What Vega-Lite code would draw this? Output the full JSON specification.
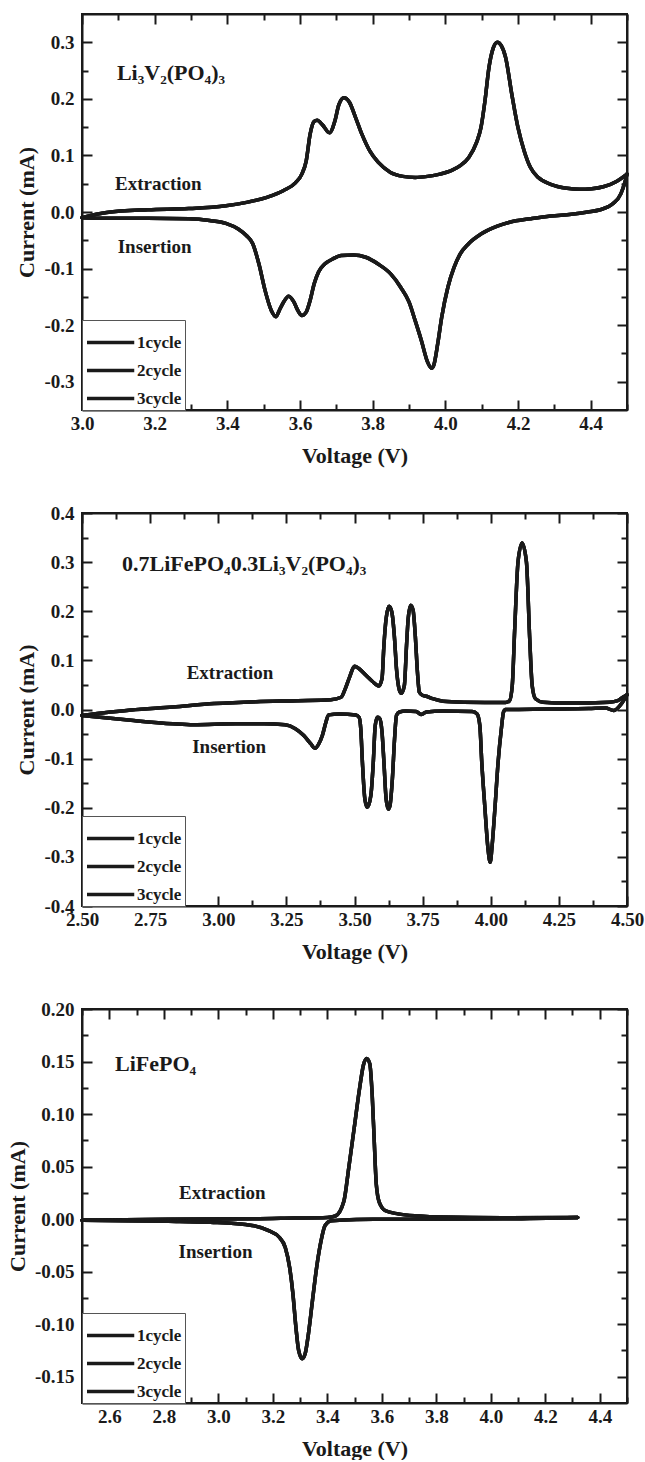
{
  "$schema": "https://vega.github.io/schema/vega-lite/v6.json",
  "padding": {"left": 5, "top": 12, "right": 5, "bottom": 0},
  "spacing": 36,
  "config": {
    "font": "Liberation Serif",
    "view": {"stroke": "#1a1a1a", "strokeWidth": 2},
    "axis": {"labelFont": "Liberation Serif", "labelFontSize": 19, "labelFontWeight": "bold", "labelColor": "#1a1a1a", "titleFont": "Liberation Serif", "titleFontSize": 22, "titleFontWeight": "bold", "titleColor": "#1a1a1a", "domainColor": "#1a1a1a", "domainWidth": 2, "tickColor": "#1a1a1a", "tickWidth": 2, "grid": false, "labelOverlap": false, "labelFlush": false, "labelBound": false},
    "text": {"font": "Liberation Serif", "fontWeight": "bold", "color": "#1a1a1a"},
    "legend": {"orient": "bottom-left", "offset": 0, "symbolType": "M-1,0H1.7", "symbolSize": 1225, "symbolStrokeWidth": 3.5, "labelFont": "Liberation Serif", "labelFontSize": 17, "labelFontWeight": "bold", "labelColor": "#1a1a1a", "strokeColor": "#555555", "fillColor": "#ffffff", "padding": 3, "rowPadding": -6.5, "labelOffset": 13}
  },
  "datasets": {
    "notes": [
      {"p": 1, "k": "w", "t": "Extraction", "V": 3.21, "I": 0.05},
      {"p": 1, "k": "w", "t": "Insertion", "V": 3.2, "I": -0.061},
      {"p": 1, "k": "f", "t": "Li₃V₂(PO₄)₃", "V": 3.096, "I": 0.246},
      {"p": 2, "k": "w", "t": "Extraction", "V": 3.043, "I": 0.074},
      {"p": 2, "k": "w", "t": "Insertion", "V": 3.04, "I": -0.077},
      {"p": 2, "k": "f", "t": "0.7LiFePO₄0.3Li₃V₂(PO₄)₃", "V": 2.647, "I": 0.297},
      {"p": 3, "k": "w", "t": "Extraction", "V": 3.015, "I": 0.025},
      {"p": 3, "k": "w", "t": "Insertion", "V": 2.99, "I": -0.0316},
      {"p": 3, "k": "f", "t": "LiFePO₄", "V": 2.621, "I": 0.148}
    ],
    "lvp": [
      {"b":"u","V":3.0,"1cycle":-0.01,"2cycle":-0.01,"3cycle":-0.01},
      {"b":"u","V":3.068,"1cycle":-0.001,"2cycle":-0.001,"3cycle":-0.001},
      {"b":"u","V":3.181,"1cycle":0.004,"2cycle":0.004,"3cycle":0.004},
      {"b":"u","V":3.294,"1cycle":0.006,"2cycle":0.006,"3cycle":0.006},
      {"b":"u","V":3.396,"1cycle":0.011,"2cycle":0.011,"3cycle":0.011},
      {"b":"u","V":3.453,"1cycle":0.017,"2cycle":0.017,"3cycle":0.017},
      {"b":"u","V":3.509,"1cycle":0.026,"2cycle":0.026,"3cycle":0.026},
      {"b":"u","V":3.555,"1cycle":0.038,"2cycle":0.038,"3cycle":0.038},
      {"b":"u","V":3.588,"1cycle":0.052,"2cycle":0.052,"3cycle":0.052},
      {"b":"u","V":3.605,"1cycle":0.067,"2cycle":0.067,"3cycle":0.067},
      {"b":"u","V":3.617,"1cycle":0.09,"2cycle":0.09,"3cycle":0.09},
      {"b":"u","V":3.628,"1cycle":0.138,"2cycle":0.138,"3cycle":0.138},
      {"b":"u","V":3.639,"1cycle":0.16,"2cycle":0.16,"3cycle":0.16},
      {"b":"u","V":3.647,"1cycle":0.162,"2cycle":0.162,"3cycle":0.162},
      {"b":"u","V":3.662,"1cycle":0.154,"2cycle":0.154,"3cycle":0.154},
      {"b":"u","V":3.681,"1cycle":0.14,"2cycle":0.14,"3cycle":0.14},
      {"b":"u","V":3.696,"1cycle":0.161,"2cycle":0.161,"3cycle":0.161},
      {"b":"u","V":3.707,"1cycle":0.19,"2cycle":0.19,"3cycle":0.19},
      {"b":"u","V":3.721,"1cycle":0.202,"2cycle":0.202,"3cycle":0.202},
      {"b":"u","V":3.736,"1cycle":0.194,"2cycle":0.194,"3cycle":0.194},
      {"b":"u","V":3.753,"1cycle":0.167,"2cycle":0.167,"3cycle":0.167},
      {"b":"u","V":3.77,"1cycle":0.138,"2cycle":0.138,"3cycle":0.138},
      {"b":"u","V":3.792,"1cycle":0.108,"2cycle":0.108,"3cycle":0.108},
      {"b":"u","V":3.815,"1cycle":0.088,"2cycle":0.088,"3cycle":0.088},
      {"b":"u","V":3.849,"1cycle":0.07,"2cycle":0.07,"3cycle":0.07},
      {"b":"u","V":3.883,"1cycle":0.063,"2cycle":0.063,"3cycle":0.063},
      {"b":"u","V":3.917,"1cycle":0.061,"2cycle":0.061,"3cycle":0.061},
      {"b":"u","V":3.951,"1cycle":0.063,"2cycle":0.063,"3cycle":0.063},
      {"b":"u","V":3.985,"1cycle":0.067,"2cycle":0.067,"3cycle":0.067},
      {"b":"u","V":4.019,"1cycle":0.074,"2cycle":0.074,"3cycle":0.074},
      {"b":"u","V":4.041,"1cycle":0.082,"2cycle":0.082,"3cycle":0.082},
      {"b":"u","V":4.064,"1cycle":0.096,"2cycle":0.096,"3cycle":0.096},
      {"b":"u","V":4.086,"1cycle":0.123,"2cycle":0.123,"3cycle":0.123},
      {"b":"u","V":4.098,"1cycle":0.149,"2cycle":0.149,"3cycle":0.149},
      {"b":"u","V":4.109,"1cycle":0.196,"2cycle":0.196,"3cycle":0.196},
      {"b":"u","V":4.12,"1cycle":0.255,"2cycle":0.255,"3cycle":0.255},
      {"b":"u","V":4.132,"1cycle":0.29,"2cycle":0.29,"3cycle":0.29},
      {"b":"u","V":4.143,"1cycle":0.3,"2cycle":0.3,"3cycle":0.3},
      {"b":"u","V":4.154,"1cycle":0.294,"2cycle":0.294,"3cycle":0.294},
      {"b":"u","V":4.166,"1cycle":0.273,"2cycle":0.273,"3cycle":0.273},
      {"b":"u","V":4.183,"1cycle":0.208,"2cycle":0.208,"3cycle":0.208},
      {"b":"u","V":4.2,"1cycle":0.149,"2cycle":0.149,"3cycle":0.149},
      {"b":"u","V":4.217,"1cycle":0.108,"2cycle":0.108,"3cycle":0.108},
      {"b":"u","V":4.234,"1cycle":0.079,"2cycle":0.079,"3cycle":0.079},
      {"b":"u","V":4.256,"1cycle":0.061,"2cycle":0.061,"3cycle":0.061},
      {"b":"u","V":4.29,"1cycle":0.049,"2cycle":0.049,"3cycle":0.049},
      {"b":"u","V":4.335,"1cycle":0.042,"2cycle":0.042,"3cycle":0.042},
      {"b":"u","V":4.369,"1cycle":0.04,"2cycle":0.04,"3cycle":0.04},
      {"b":"u","V":4.403,"1cycle":0.041,"2cycle":0.041,"3cycle":0.041},
      {"b":"u","V":4.437,"1cycle":0.045,"2cycle":0.045,"3cycle":0.045},
      {"b":"u","V":4.471,"1cycle":0.054,"2cycle":0.054,"3cycle":0.054},
      {"b":"u","V":4.5,"1cycle":0.067,"2cycle":0.067,"3cycle":0.067},
      {"b":"l","V":4.5,"1cycle":0.067,"2cycle":0.067,"3cycle":0.067},
      {"b":"l","V":4.494,"1cycle":0.052,"2cycle":0.052,"3cycle":0.052},
      {"b":"l","V":4.483,"1cycle":0.032,"2cycle":0.032,"3cycle":0.032},
      {"b":"l","V":4.46,"1cycle":0.014,"2cycle":0.014,"3cycle":0.014},
      {"b":"l","V":4.426,"1cycle":0.004,"2cycle":0.004,"3cycle":0.004},
      {"b":"l","V":4.392,"1cycle":0.0,"2cycle":0.0,"3cycle":0.0},
      {"b":"l","V":4.347,"1cycle":-0.004,"2cycle":-0.004,"3cycle":-0.004},
      {"b":"l","V":4.29,"1cycle":-0.007,"2cycle":-0.007,"3cycle":-0.007},
      {"b":"l","V":4.234,"1cycle":-0.012,"2cycle":-0.012,"3cycle":-0.012},
      {"b":"l","V":4.177,"1cycle":-0.018,"2cycle":-0.018,"3cycle":-0.018},
      {"b":"l","V":4.143,"1cycle":-0.025,"2cycle":-0.025,"3cycle":-0.025},
      {"b":"l","V":4.098,"1cycle":-0.039,"2cycle":-0.039,"3cycle":-0.039},
      {"b":"l","V":4.064,"1cycle":-0.056,"2cycle":-0.056,"3cycle":-0.056},
      {"b":"l","V":4.041,"1cycle":-0.074,"2cycle":-0.074,"3cycle":-0.074},
      {"b":"l","V":4.024,"1cycle":-0.098,"2cycle":-0.098,"3cycle":-0.098},
      {"b":"l","V":4.007,"1cycle":-0.133,"2cycle":-0.133,"3cycle":-0.133},
      {"b":"l","V":3.99,"1cycle":-0.186,"2cycle":-0.186,"3cycle":-0.186},
      {"b":"l","V":3.979,"1cycle":-0.233,"2cycle":-0.233,"3cycle":-0.233},
      {"b":"l","V":3.968,"1cycle":-0.271,"2cycle":-0.271,"3cycle":-0.271},
      {"b":"l","V":3.962,"1cycle":-0.276,"2cycle":-0.276,"3cycle":-0.276},
      {"b":"l","V":3.951,"1cycle":-0.265,"2cycle":-0.265,"3cycle":-0.265},
      {"b":"l","V":3.934,"1cycle":-0.227,"2cycle":-0.227,"3cycle":-0.227},
      {"b":"l","V":3.917,"1cycle":-0.192,"2cycle":-0.192,"3cycle":-0.192},
      {"b":"l","V":3.9,"1cycle":-0.159,"2cycle":-0.159,"3cycle":-0.159},
      {"b":"l","V":3.877,"1cycle":-0.133,"2cycle":-0.133,"3cycle":-0.133},
      {"b":"l","V":3.849,"1cycle":-0.109,"2cycle":-0.109,"3cycle":-0.109},
      {"b":"l","V":3.815,"1cycle":-0.092,"2cycle":-0.092,"3cycle":-0.092},
      {"b":"l","V":3.781,"1cycle":-0.08,"2cycle":-0.08,"3cycle":-0.08},
      {"b":"l","V":3.747,"1cycle":-0.076,"2cycle":-0.076,"3cycle":-0.076},
      {"b":"l","V":3.713,"1cycle":-0.077,"2cycle":-0.077,"3cycle":-0.077},
      {"b":"l","V":3.69,"1cycle":-0.083,"2cycle":-0.083,"3cycle":-0.083},
      {"b":"l","V":3.668,"1cycle":-0.092,"2cycle":-0.092,"3cycle":-0.092},
      {"b":"l","V":3.651,"1cycle":-0.106,"2cycle":-0.106,"3cycle":-0.106},
      {"b":"l","V":3.639,"1cycle":-0.127,"2cycle":-0.127,"3cycle":-0.127},
      {"b":"l","V":3.628,"1cycle":-0.156,"2cycle":-0.156,"3cycle":-0.156},
      {"b":"l","V":3.617,"1cycle":-0.177,"2cycle":-0.177,"3cycle":-0.177},
      {"b":"l","V":3.605,"1cycle":-0.183,"2cycle":-0.183,"3cycle":-0.183},
      {"b":"l","V":3.594,"1cycle":-0.174,"2cycle":-0.174,"3cycle":-0.174},
      {"b":"l","V":3.583,"1cycle":-0.159,"2cycle":-0.159,"3cycle":-0.159},
      {"b":"l","V":3.569,"1cycle":-0.149,"2cycle":-0.149,"3cycle":-0.149},
      {"b":"l","V":3.555,"1cycle":-0.159,"2cycle":-0.159,"3cycle":-0.159},
      {"b":"l","V":3.543,"1cycle":-0.174,"2cycle":-0.174,"3cycle":-0.174},
      {"b":"l","V":3.534,"1cycle":-0.185,"2cycle":-0.185,"3cycle":-0.185},
      {"b":"l","V":3.521,"1cycle":-0.174,"2cycle":-0.174,"3cycle":-0.174},
      {"b":"l","V":3.504,"1cycle":-0.139,"2cycle":-0.139,"3cycle":-0.139},
      {"b":"l","V":3.487,"1cycle":-0.092,"2cycle":-0.092,"3cycle":-0.092},
      {"b":"l","V":3.47,"1cycle":-0.056,"2cycle":-0.056,"3cycle":-0.056},
      {"b":"l","V":3.453,"1cycle":-0.042,"2cycle":-0.042,"3cycle":-0.042},
      {"b":"l","V":3.43,"1cycle":-0.03,"2cycle":-0.03,"3cycle":-0.03},
      {"b":"l","V":3.396,"1cycle":-0.02,"2cycle":-0.02,"3cycle":-0.02},
      {"b":"l","V":3.351,"1cycle":-0.015,"2cycle":-0.015,"3cycle":-0.015},
      {"b":"l","V":3.294,"1cycle":-0.012,"2cycle":-0.012,"3cycle":-0.012},
      {"b":"l","V":3.181,"1cycle":-0.011,"2cycle":-0.011,"3cycle":-0.011},
      {"b":"l","V":3.068,"1cycle":-0.011,"2cycle":-0.011,"3cycle":-0.011},
      {"b":"l","V":3.0,"1cycle":-0.01,"2cycle":-0.01,"3cycle":-0.01}
    ],
    "comp": [
      {"b":"u","V":2.5,"1cycle":-0.012,"2cycle":-0.012,"3cycle":-0.012},
      {"b":"u","V":2.68,"1cycle":-0.001,"2cycle":-0.001,"3cycle":-0.001},
      {"b":"u","V":2.833,"1cycle":0.005,"2cycle":0.005,"3cycle":0.005},
      {"b":"u","V":2.985,"1cycle":0.012,"2cycle":0.012,"3cycle":0.012},
      {"b":"u","V":3.138,"1cycle":0.016,"2cycle":0.016,"3cycle":0.016},
      {"b":"u","V":3.291,"1cycle":0.018,"2cycle":0.018,"3cycle":0.018},
      {"b":"u","V":3.413,"1cycle":0.02,"2cycle":0.02,"3cycle":0.02},
      {"b":"u","V":3.451,"1cycle":0.025,"2cycle":0.025,"3cycle":0.025},
      {"b":"u","V":3.466,"1cycle":0.042,"2cycle":0.042,"3cycle":0.042},
      {"b":"u","V":3.482,"1cycle":0.066,"2cycle":0.066,"3cycle":0.066},
      {"b":"u","V":3.5,"1cycle":0.088,"2cycle":0.088,"3cycle":0.088},
      {"b":"u","V":3.517,"1cycle":0.083,"2cycle":0.083,"3cycle":0.083},
      {"b":"u","V":3.543,"1cycle":0.069,"2cycle":0.069,"3cycle":0.069},
      {"b":"u","V":3.566,"1cycle":0.057,"2cycle":0.057,"3cycle":0.057},
      {"b":"u","V":3.589,"1cycle":0.048,"2cycle":0.048,"3cycle":0.048},
      {"b":"u","V":3.601,"1cycle":0.063,"2cycle":0.063,"3cycle":0.063},
      {"b":"u","V":3.608,"1cycle":0.131,"2cycle":0.131,"3cycle":0.131},
      {"b":"u","V":3.616,"1cycle":0.185,"2cycle":0.185,"3cycle":0.185},
      {"b":"u","V":3.627,"1cycle":0.21,"2cycle":0.21,"3cycle":0.21},
      {"b":"u","V":3.637,"1cycle":0.198,"2cycle":0.198,"3cycle":0.198},
      {"b":"u","V":3.647,"1cycle":0.144,"2cycle":0.144,"3cycle":0.144},
      {"b":"u","V":3.654,"1cycle":0.083,"2cycle":0.083,"3cycle":0.083},
      {"b":"u","V":3.665,"1cycle":0.039,"2cycle":0.039,"3cycle":0.039},
      {"b":"u","V":3.672,"1cycle":0.033,"2cycle":0.033,"3cycle":0.033},
      {"b":"u","V":3.683,"1cycle":0.049,"2cycle":0.049,"3cycle":0.049},
      {"b":"u","V":3.691,"1cycle":0.131,"2cycle":0.131,"3cycle":0.131},
      {"b":"u","V":3.697,"1cycle":0.185,"2cycle":0.185,"3cycle":0.185},
      {"b":"u","V":3.706,"1cycle":0.212,"2cycle":0.212,"3cycle":0.212},
      {"b":"u","V":3.715,"1cycle":0.202,"2cycle":0.202,"3cycle":0.202},
      {"b":"u","V":3.723,"1cycle":0.151,"2cycle":0.151,"3cycle":0.151},
      {"b":"u","V":3.731,"1cycle":0.076,"2cycle":0.076,"3cycle":0.076},
      {"b":"u","V":3.738,"1cycle":0.035,"2cycle":0.035,"3cycle":0.035},
      {"b":"u","V":3.749,"1cycle":0.029,"2cycle":0.029,"3cycle":0.029},
      {"b":"u","V":3.764,"1cycle":0.027,"2cycle":0.027,"3cycle":0.027},
      {"b":"u","V":3.787,"1cycle":0.022,"2cycle":0.022,"3cycle":0.022},
      {"b":"u","V":3.825,"1cycle":0.017,"2cycle":0.017,"3cycle":0.017},
      {"b":"u","V":3.902,"1cycle":0.015,"2cycle":0.015,"3cycle":0.015},
      {"b":"u","V":4.054,"1cycle":0.014,"2cycle":0.014,"3cycle":0.014},
      {"b":"u","V":4.069,"1cycle":0.018,"2cycle":0.018,"3cycle":0.018},
      {"b":"u","V":4.079,"1cycle":0.049,"2cycle":0.049,"3cycle":0.049},
      {"b":"u","V":4.088,"1cycle":0.165,"2cycle":0.165,"3cycle":0.165},
      {"b":"u","V":4.1,"1cycle":0.3,"2cycle":0.3,"3cycle":0.3},
      {"b":"u","V":4.115,"1cycle":0.339,"2cycle":0.339,"3cycle":0.339},
      {"b":"u","V":4.131,"1cycle":0.3,"2cycle":0.3,"3cycle":0.3},
      {"b":"u","V":4.143,"1cycle":0.144,"2cycle":0.144,"3cycle":0.144},
      {"b":"u","V":4.152,"1cycle":0.049,"2cycle":0.049,"3cycle":0.049},
      {"b":"u","V":4.164,"1cycle":0.022,"2cycle":0.022,"3cycle":0.022},
      {"b":"u","V":4.192,"1cycle":0.015,"2cycle":0.015,"3cycle":0.015},
      {"b":"u","V":4.283,"1cycle":0.013,"2cycle":0.013,"3cycle":0.013},
      {"b":"u","V":4.436,"1cycle":0.015,"2cycle":0.015,"3cycle":0.015},
      {"b":"u","V":4.466,"1cycle":0.018,"2cycle":0.018,"3cycle":0.018},
      {"b":"u","V":4.482,"1cycle":0.024,"2cycle":0.024,"3cycle":0.024},
      {"b":"u","V":4.5,"1cycle":0.03,"2cycle":0.03,"3cycle":0.03},
      {"b":"l","V":4.5,"1cycle":0.03,"2cycle":0.03,"3cycle":0.03},
      {"b":"l","V":4.474,"1cycle":0.008,"2cycle":0.008,"3cycle":0.008},
      {"b":"l","V":4.451,"1cycle":-0.002,"2cycle":-0.002,"3cycle":-0.002},
      {"b":"l","V":4.421,"1cycle":0.003,"2cycle":0.003,"3cycle":0.003},
      {"b":"l","V":4.36,"1cycle":0.002,"2cycle":0.002,"3cycle":0.002},
      {"b":"l","V":4.207,"1cycle":0.001,"2cycle":0.001,"3cycle":0.001},
      {"b":"l","V":4.054,"1cycle":0.0,"2cycle":0.0,"3cycle":0.0},
      {"b":"l","V":4.047,"1cycle":-0.005,"2cycle":-0.005,"3cycle":-0.005},
      {"b":"l","V":4.039,"1cycle":-0.039,"2cycle":-0.039,"3cycle":-0.039},
      {"b":"l","V":4.027,"1cycle":-0.107,"2cycle":-0.107,"3cycle":-0.107},
      {"b":"l","V":4.016,"1cycle":-0.196,"2cycle":-0.196,"3cycle":-0.196},
      {"b":"l","V":4.005,"1cycle":-0.277,"2cycle":-0.277,"3cycle":-0.277},
      {"b":"l","V":3.998,"1cycle":-0.311,"2cycle":-0.311,"3cycle":-0.311},
      {"b":"l","V":3.99,"1cycle":-0.284,"2cycle":-0.284,"3cycle":-0.284},
      {"b":"l","V":3.978,"1cycle":-0.196,"2cycle":-0.196,"3cycle":-0.196},
      {"b":"l","V":3.967,"1cycle":-0.107,"2cycle":-0.107,"3cycle":-0.107},
      {"b":"l","V":3.96,"1cycle":-0.033,"2cycle":-0.033,"3cycle":-0.033},
      {"b":"l","V":3.95,"1cycle":-0.009,"2cycle":-0.009,"3cycle":-0.009},
      {"b":"l","V":3.932,"1cycle":-0.004,"2cycle":-0.004,"3cycle":-0.004},
      {"b":"l","V":3.825,"1cycle":-0.003,"2cycle":-0.003,"3cycle":-0.003},
      {"b":"l","V":3.764,"1cycle":-0.005,"2cycle":-0.005,"3cycle":-0.005},
      {"b":"l","V":3.744,"1cycle":-0.01,"2cycle":-0.01,"3cycle":-0.01},
      {"b":"l","V":3.726,"1cycle":-0.004,"2cycle":-0.004,"3cycle":-0.004},
      {"b":"l","V":3.688,"1cycle":-0.003,"2cycle":-0.003,"3cycle":-0.003},
      {"b":"l","V":3.665,"1cycle":-0.005,"2cycle":-0.005,"3cycle":-0.005},
      {"b":"l","V":3.654,"1cycle":-0.012,"2cycle":-0.012,"3cycle":-0.012},
      {"b":"l","V":3.647,"1cycle":-0.06,"2cycle":-0.06,"3cycle":-0.06},
      {"b":"l","V":3.639,"1cycle":-0.141,"2cycle":-0.141,"3cycle":-0.141},
      {"b":"l","V":3.63,"1cycle":-0.196,"2cycle":-0.196,"3cycle":-0.196},
      {"b":"l","V":3.624,"1cycle":-0.203,"2cycle":-0.203,"3cycle":-0.203},
      {"b":"l","V":3.616,"1cycle":-0.182,"2cycle":-0.182,"3cycle":-0.182},
      {"b":"l","V":3.608,"1cycle":-0.107,"2cycle":-0.107,"3cycle":-0.107},
      {"b":"l","V":3.601,"1cycle":-0.046,"2cycle":-0.046,"3cycle":-0.046},
      {"b":"l","V":3.592,"1cycle":-0.018,"2cycle":-0.018,"3cycle":-0.018},
      {"b":"l","V":3.584,"1cycle":-0.016,"2cycle":-0.016,"3cycle":-0.016},
      {"b":"l","V":3.576,"1cycle":-0.033,"2cycle":-0.033,"3cycle":-0.033},
      {"b":"l","V":3.569,"1cycle":-0.107,"2cycle":-0.107,"3cycle":-0.107},
      {"b":"l","V":3.56,"1cycle":-0.175,"2cycle":-0.175,"3cycle":-0.175},
      {"b":"l","V":3.547,"1cycle":-0.199,"2cycle":-0.199,"3cycle":-0.199},
      {"b":"l","V":3.538,"1cycle":-0.182,"2cycle":-0.182,"3cycle":-0.182},
      {"b":"l","V":3.529,"1cycle":-0.107,"2cycle":-0.107,"3cycle":-0.107},
      {"b":"l","V":3.523,"1cycle":-0.039,"2cycle":-0.039,"3cycle":-0.039},
      {"b":"l","V":3.517,"1cycle":-0.016,"2cycle":-0.016,"3cycle":-0.016},
      {"b":"l","V":3.505,"1cycle":-0.011,"2cycle":-0.011,"3cycle":-0.011},
      {"b":"l","V":3.444,"1cycle":-0.009,"2cycle":-0.009,"3cycle":-0.009},
      {"b":"l","V":3.405,"1cycle":-0.011,"2cycle":-0.011,"3cycle":-0.011},
      {"b":"l","V":3.395,"1cycle":-0.026,"2cycle":-0.026,"3cycle":-0.026},
      {"b":"l","V":3.382,"1cycle":-0.053,"2cycle":-0.053,"3cycle":-0.053},
      {"b":"l","V":3.367,"1cycle":-0.072,"2cycle":-0.072,"3cycle":-0.072},
      {"b":"l","V":3.355,"1cycle":-0.079,"2cycle":-0.079,"3cycle":-0.079},
      {"b":"l","V":3.34,"1cycle":-0.07,"2cycle":-0.07,"3cycle":-0.07},
      {"b":"l","V":3.314,"1cycle":-0.053,"2cycle":-0.053,"3cycle":-0.053},
      {"b":"l","V":3.283,"1cycle":-0.039,"2cycle":-0.039,"3cycle":-0.039},
      {"b":"l","V":3.245,"1cycle":-0.031,"2cycle":-0.031,"3cycle":-0.031},
      {"b":"l","V":3.169,"1cycle":-0.029,"2cycle":-0.029,"3cycle":-0.029},
      {"b":"l","V":3.062,"1cycle":-0.029,"2cycle":-0.029,"3cycle":-0.029},
      {"b":"l","V":2.909,"1cycle":-0.031,"2cycle":-0.031,"3cycle":-0.031},
      {"b":"l","V":2.833,"1cycle":-0.029,"2cycle":-0.029,"3cycle":-0.029},
      {"b":"l","V":2.68,"1cycle":-0.022,"2cycle":-0.022,"3cycle":-0.022},
      {"b":"l","V":2.5,"1cycle":-0.012,"2cycle":-0.012,"3cycle":-0.012}
    ],
    "lfp": [
      {"b":"u","V":2.5,"1cycle":-0.001,"2cycle":-0.001,"3cycle":-0.001},
      {"b":"u","V":2.818,"1cycle":0.0,"2cycle":0.0,"3cycle":0.0},
      {"b":"u","V":3.124,"1cycle":0.0003,"2cycle":0.0003,"3cycle":0.0003},
      {"b":"u","V":3.277,"1cycle":0.001,"2cycle":0.001,"3cycle":0.001},
      {"b":"u","V":3.4,"1cycle":0.0016,"2cycle":0.0016,"3cycle":0.0016},
      {"b":"u","V":3.43,"1cycle":0.003,"2cycle":0.003,"3cycle":0.003},
      {"b":"u","V":3.461,"1cycle":0.017,"2cycle":0.017,"3cycle":0.017},
      {"b":"u","V":3.479,"1cycle":0.049,"2cycle":0.049,"3cycle":0.049},
      {"b":"u","V":3.499,"1cycle":0.087,"2cycle":0.087,"3cycle":0.087},
      {"b":"u","V":3.519,"1cycle":0.125,"2cycle":0.125,"3cycle":0.125},
      {"b":"u","V":3.533,"1cycle":0.147,"2cycle":0.147,"3cycle":0.147},
      {"b":"u","V":3.545,"1cycle":0.153,"2cycle":0.153,"3cycle":0.153},
      {"b":"u","V":3.556,"1cycle":0.148,"2cycle":0.148,"3cycle":0.148},
      {"b":"u","V":3.565,"1cycle":0.118,"2cycle":0.118,"3cycle":0.118},
      {"b":"u","V":3.573,"1cycle":0.071,"2cycle":0.071,"3cycle":0.071},
      {"b":"u","V":3.58,"1cycle":0.033,"2cycle":0.033,"3cycle":0.033},
      {"b":"u","V":3.591,"1cycle":0.016,"2cycle":0.016,"3cycle":0.016},
      {"b":"u","V":3.614,"1cycle":0.008,"2cycle":0.008,"3cycle":0.008},
      {"b":"u","V":3.66,"1cycle":0.005,"2cycle":0.005,"3cycle":0.005},
      {"b":"u","V":3.737,"1cycle":0.003,"2cycle":0.003,"3cycle":0.003},
      {"b":"u","V":3.813,"1cycle":0.002,"2cycle":0.002,"3cycle":0.002},
      {"b":"u","V":4.043,"1cycle":0.0013,"2cycle":0.0013,"3cycle":0.0013},
      {"b":"u","V":4.319,"1cycle":0.0016,"2cycle":0.0016,"3cycle":0.0016},
      {"b":"l","V":4.319,"1cycle":0.0016,"2cycle":0.0016,"3cycle":0.0016},
      {"b":"l","V":4.043,"1cycle":0.0003,"2cycle":0.0003,"3cycle":0.0003},
      {"b":"l","V":3.737,"1cycle":0.0,"2cycle":0.0,"3cycle":0.0},
      {"b":"l","V":3.507,"1cycle":-0.0003,"2cycle":-0.0003,"3cycle":-0.0003},
      {"b":"l","V":3.415,"1cycle":-0.0016,"2cycle":-0.0016,"3cycle":-0.0016},
      {"b":"l","V":3.392,"1cycle":-0.006,"2cycle":-0.006,"3cycle":-0.006},
      {"b":"l","V":3.377,"1cycle":-0.021,"2cycle":-0.021,"3cycle":-0.021},
      {"b":"l","V":3.361,"1cycle":-0.046,"2cycle":-0.046,"3cycle":-0.046},
      {"b":"l","V":3.346,"1cycle":-0.077,"2cycle":-0.077,"3cycle":-0.077},
      {"b":"l","V":3.331,"1cycle":-0.109,"2cycle":-0.109,"3cycle":-0.109},
      {"b":"l","V":3.319,"1cycle":-0.128,"2cycle":-0.128,"3cycle":-0.128},
      {"b":"l","V":3.308,"1cycle":-0.133,"2cycle":-0.133,"3cycle":-0.133},
      {"b":"l","V":3.295,"1cycle":-0.125,"2cycle":-0.125,"3cycle":-0.125},
      {"b":"l","V":3.285,"1cycle":-0.103,"2cycle":-0.103,"3cycle":-0.103},
      {"b":"l","V":3.274,"1cycle":-0.071,"2cycle":-0.071,"3cycle":-0.071},
      {"b":"l","V":3.262,"1cycle":-0.046,"2cycle":-0.046,"3cycle":-0.046},
      {"b":"l","V":3.246,"1cycle":-0.027,"2cycle":-0.027,"3cycle":-0.027},
      {"b":"l","V":3.223,"1cycle":-0.017,"2cycle":-0.017,"3cycle":-0.017},
      {"b":"l","V":3.185,"1cycle":-0.011,"2cycle":-0.011,"3cycle":-0.011},
      {"b":"l","V":3.124,"1cycle":-0.006,"2cycle":-0.006,"3cycle":-0.006},
      {"b":"l","V":2.971,"1cycle":-0.003,"2cycle":-0.003,"3cycle":-0.003},
      {"b":"l","V":2.818,"1cycle":-0.002,"2cycle":-0.002,"3cycle":-0.002},
      {"b":"l","V":2.5,"1cycle":-0.001,"2cycle":-0.001,"3cycle":-0.001}
    ]
  },
  "vconcat": [
    {
      "width": 545, "height": 396,
      "layer": [
        {
          "data": {"name": "lvp"},
          "transform": [{"fold": ["1cycle", "2cycle", "3cycle"], "as": ["cycle", "I"]}],
          "mark": {"type": "line", "interpolate": "monotone", "strokeWidth": 3.5, "strokeCap": "round", "strokeJoin": "round"},
          "encoding": {
            "x": {"field": "V", "type": "quantitative", "scale": {"domain": [3, 4.5], "nice": false, "zero": false},
              "axis": {"orient": "bottom", "title": "Voltage (V)", "values": [3,3.1,3.2,3.3,3.4,3.5,3.6,3.7,3.8,3.9,4,4.1,4.2,4.3,4.4,4.5],
                "labelExpr": "abs(datum.value*5-round(datum.value*5))<1e-6 ? format(datum.value,'.1f') : ''",
                "tickSize": {"condition": {"test": "abs(datum.value*5-round(datum.value*5))<1e-6", "value": -10}, "value": -6},
                "labelPadding": 14, "titlePadding": 8}},
            "y": {"field": "I", "type": "quantitative", "scale": {"domain": [-0.35, 0.35], "nice": false, "zero": false},
              "axis": {"orient": "left", "title": "Current (mA)", "values": [-0.3,-0.25,-0.2,-0.15,-0.1,-0.05,0,0.05,0.1,0.15,0.2,0.25,0.3],
                "labelExpr": "abs(datum.value*10-round(datum.value*10))<1e-6 ? (datum.value<0?'-':'')+format(abs(datum.value),'.1f') : ''",
                "tickSize": {"condition": {"test": "abs(datum.value*10-round(datum.value*10))<1e-6", "value": -10}, "value": -6},
                "labelPadding": 18, "titlePadding": 5}},
            "color": {"field": "cycle", "type": "nominal", "scale": {"domain": ["1cycle", "2cycle", "3cycle"], "range": ["#1a1a1a", "#1a1a1a", "#1a1a1a"]}, "legend": {"title": null, "labelExpr": "datum.label + '\u00a0\u00a0\u00a0\u00a0\u00a0'"}},
            "detail": {"field": "b", "type": "nominal"}
          }
        },
        {
          "data": {"values": [{}]},
          "mark": {"type": "point", "opacity": 0},
          "encoding": {
            "x": {"datum": 3.5, "type": "quantitative",
              "axis": {"orient": "top", "title": null, "labels": false, "values": [3,3.1,3.2,3.3,3.4,3.5,3.6,3.7,3.8,3.9,4,4.1,4.2,4.3,4.4,4.5],
                "tickSize": {"condition": {"test": "abs(datum.value*5-round(datum.value*5))<1e-6", "value": -10}, "value": -6}}},
            "y": {"datum": 0, "type": "quantitative",
              "axis": {"orient": "right", "title": null, "labels": false, "values": [-0.3,-0.25,-0.2,-0.15,-0.1,-0.05,0,0.05,0.1,0.15,0.2,0.25,0.3],
                "tickSize": {"condition": {"test": "abs(datum.value*10-round(datum.value*10))<1e-6", "value": -10}, "value": -6}}}
          }
        },
        {
          "data": {"name": "notes"},
          "transform": [{"filter": "datum.p == 1 && datum.k == 'w'"}],
          "mark": {"type": "text", "fontSize": 19, "align": "center", "baseline": "middle"},
          "encoding": {
            "x": {"field": "V", "type": "quantitative", "axis": null},
            "y": {"field": "I", "type": "quantitative", "axis": null},
            "text": {"field": "t"}
          }
        },
        {
          "data": {"name": "notes"},
          "transform": [{"filter": "datum.p == 1 && datum.k == 'f'"}],
          "mark": {"type": "text", "fontSize": 22, "align": "left", "baseline": "middle"},
          "encoding": {
            "x": {"field": "V", "type": "quantitative", "axis": null},
            "y": {"field": "I", "type": "quantitative", "axis": null},
            "text": {"field": "t"}
          }
        }
      ],
      "resolve": {"axis": {"x": "independent", "y": "independent"}}
    },
    {
      "width": 545, "height": 393,
      "layer": [
        {
          "data": {"name": "comp"},
          "transform": [{"fold": ["1cycle", "2cycle", "3cycle"], "as": ["cycle", "I"]}],
          "mark": {"type": "line", "interpolate": "monotone", "strokeWidth": 3.5, "strokeCap": "round", "strokeJoin": "round"},
          "encoding": {
            "x": {"field": "V", "type": "quantitative", "scale": {"domain": [2.5, 4.5], "nice": false, "zero": false},
              "axis": {"orient": "bottom", "title": "Voltage (V)", "values": [2.5,2.625,2.75,2.875,3,3.125,3.25,3.375,3.5,3.625,3.75,3.875,4,4.125,4.25,4.375,4.5],
                "labelExpr": "abs(datum.value*4-round(datum.value*4))<1e-6 ? format(datum.value,'.2f') : ''",
                "tickSize": {"condition": {"test": "abs(datum.value*4-round(datum.value*4))<1e-6", "value": -10}, "value": -6},
                "labelPadding": 14, "titlePadding": 8}},
            "y": {"field": "I", "type": "quantitative", "scale": {"domain": [-0.4, 0.4], "nice": false, "zero": false},
              "axis": {"orient": "left", "title": "Current (mA)", "values": [-0.4,-0.35,-0.3,-0.25,-0.2,-0.15,-0.1,-0.05,0,0.05,0.1,0.15,0.2,0.25,0.3,0.35,0.4],
                "labelExpr": "abs(datum.value*10-round(datum.value*10))<1e-6 ? (datum.value<0?'-':'')+format(abs(datum.value),'.1f') : ''",
                "tickSize": {"condition": {"test": "abs(datum.value*10-round(datum.value*10))<1e-6", "value": -10}, "value": -6},
                "labelPadding": 18, "titlePadding": 5}},
            "color": {"field": "cycle", "type": "nominal", "scale": {"domain": ["1cycle", "2cycle", "3cycle"], "range": ["#1a1a1a", "#1a1a1a", "#1a1a1a"]}, "legend": {"title": null, "labelExpr": "datum.label + '\u00a0\u00a0\u00a0\u00a0\u00a0'"}},
            "detail": {"field": "b", "type": "nominal"}
          }
        },
        {
          "data": {"values": [{}]},
          "mark": {"type": "point", "opacity": 0},
          "encoding": {
            "x": {"datum": 3.5, "type": "quantitative",
              "axis": {"orient": "top", "title": null, "labels": false, "values": [2.5,2.625,2.75,2.875,3,3.125,3.25,3.375,3.5,3.625,3.75,3.875,4,4.125,4.25,4.375,4.5],
                "tickSize": {"condition": {"test": "abs(datum.value*4-round(datum.value*4))<1e-6", "value": -10}, "value": -6}}},
            "y": {"datum": 0, "type": "quantitative",
              "axis": {"orient": "right", "title": null, "labels": false, "values": [-0.4,-0.35,-0.3,-0.25,-0.2,-0.15,-0.1,-0.05,0,0.05,0.1,0.15,0.2,0.25,0.3,0.35,0.4],
                "tickSize": {"condition": {"test": "abs(datum.value*10-round(datum.value*10))<1e-6", "value": -10}, "value": -6}}}
          }
        },
        {
          "data": {"name": "notes"},
          "transform": [{"filter": "datum.p == 2 && datum.k == 'w'"}],
          "mark": {"type": "text", "fontSize": 19, "align": "center", "baseline": "middle"},
          "encoding": {
            "x": {"field": "V", "type": "quantitative", "axis": null},
            "y": {"field": "I", "type": "quantitative", "axis": null},
            "text": {"field": "t"}
          }
        },
        {
          "data": {"name": "notes"},
          "transform": [{"filter": "datum.p == 2 && datum.k == 'f'"}],
          "mark": {"type": "text", "fontSize": 22, "align": "left", "baseline": "middle"},
          "encoding": {
            "x": {"field": "V", "type": "quantitative", "axis": null},
            "y": {"field": "I", "type": "quantitative", "axis": null},
            "text": {"field": "t"}
          }
        }
      ],
      "resolve": {"axis": {"x": "independent", "y": "independent"}}
    },
    {
      "width": 545, "height": 394,
      "layer": [
        {
          "data": {"name": "lfp"},
          "transform": [{"fold": ["1cycle", "2cycle", "3cycle"], "as": ["cycle", "I"]}],
          "mark": {"type": "line", "interpolate": "monotone", "strokeWidth": 3.5, "strokeCap": "round", "strokeJoin": "round"},
          "encoding": {
            "x": {"field": "V", "type": "quantitative", "scale": {"domain": [2.5, 4.5], "nice": false, "zero": false},
              "axis": {"orient": "bottom", "title": "Voltage (V)", "values": [2.5,2.6,2.7,2.8,2.9,3,3.1,3.2,3.3,3.4,3.5,3.6,3.7,3.8,3.9,4,4.1,4.2,4.3,4.4,4.5],
                "labelExpr": "abs(datum.value*5-round(datum.value*5))<1e-6 ? format(datum.value,'.1f') : ''",
                "tickSize": {"condition": {"test": "abs(datum.value*5-round(datum.value*5))<1e-6", "value": -10}, "value": -6},
                "labelPadding": 14, "titlePadding": 8}},
            "y": {"field": "I", "type": "quantitative", "scale": {"domain": [-0.175, 0.2], "nice": false, "zero": false},
              "axis": {"orient": "left", "title": "Current (mA)", "values": [-0.15,-0.125,-0.1,-0.075,-0.05,-0.025,0,0.025,0.05,0.075,0.1,0.125,0.15,0.175,0.2],
                "labelExpr": "abs(datum.value*20-round(datum.value*20))<1e-6 ? (datum.value<0?'-':'')+format(abs(datum.value),'.2f') : ''",
                "tickSize": {"condition": {"test": "abs(datum.value*20-round(datum.value*20))<1e-6", "value": -10}, "value": -6},
                "labelPadding": 18, "titlePadding": 5}},
            "color": {"field": "cycle", "type": "nominal", "scale": {"domain": ["1cycle", "2cycle", "3cycle"], "range": ["#1a1a1a", "#1a1a1a", "#1a1a1a"]}, "legend": {"title": null, "labelExpr": "datum.label + '\u00a0\u00a0\u00a0\u00a0\u00a0'"}},
            "detail": {"field": "b", "type": "nominal"}
          }
        },
        {
          "data": {"values": [{}]},
          "mark": {"type": "point", "opacity": 0},
          "encoding": {
            "x": {"datum": 3.5, "type": "quantitative",
              "axis": {"orient": "top", "title": null, "labels": false, "values": [2.5,2.6,2.7,2.8,2.9,3,3.1,3.2,3.3,3.4,3.5,3.6,3.7,3.8,3.9,4,4.1,4.2,4.3,4.4,4.5],
                "tickSize": {"condition": {"test": "abs(datum.value*5-round(datum.value*5))<1e-6", "value": -10}, "value": -6}}},
            "y": {"datum": 0, "type": "quantitative",
              "axis": {"orient": "right", "title": null, "labels": false, "values": [-0.15,-0.125,-0.1,-0.075,-0.05,-0.025,0,0.025,0.05,0.075,0.1,0.125,0.15,0.175,0.2],
                "tickSize": {"condition": {"test": "abs(datum.value*20-round(datum.value*20))<1e-6", "value": -10}, "value": -6}}}
          }
        },
        {
          "data": {"name": "notes"},
          "transform": [{"filter": "datum.p == 3 && datum.k == 'w'"}],
          "mark": {"type": "text", "fontSize": 19, "align": "center", "baseline": "middle"},
          "encoding": {
            "x": {"field": "V", "type": "quantitative", "axis": null},
            "y": {"field": "I", "type": "quantitative", "axis": null},
            "text": {"field": "t"}
          }
        },
        {
          "data": {"name": "notes"},
          "transform": [{"filter": "datum.p == 3 && datum.k == 'f'"}],
          "mark": {"type": "text", "fontSize": 22, "align": "left", "baseline": "middle"},
          "encoding": {
            "x": {"field": "V", "type": "quantitative", "axis": null},
            "y": {"field": "I", "type": "quantitative", "axis": null},
            "text": {"field": "t"}
          }
        }
      ],
      "resolve": {"axis": {"x": "independent", "y": "independent"}}
    }
  ],
  "resolve": {"scale": {"color": "independent"}, "legend": {"color": "independent"}}
}
